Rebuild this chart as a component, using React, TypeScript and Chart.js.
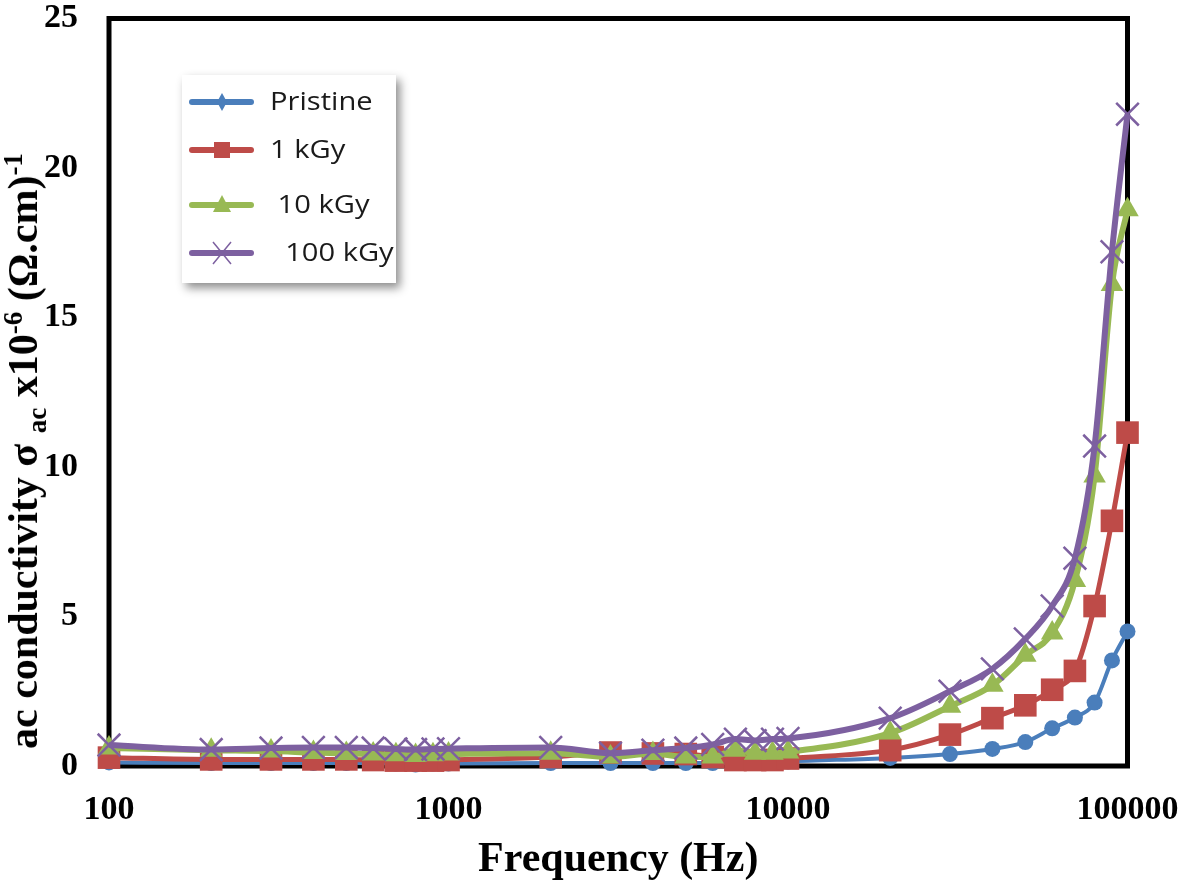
import React, { useEffect, useRef } from 'react';
import { Chart, registerables } from 'chart.js';

Chart.register(...registerables);

// ---------- data ----------
const frequencies = [100, 200, 300, 400, 500, 600, 700, 800, 900, 1000, 2000, 3000, 4000, 5000, 6000, 7000, 8000, 9000, 10000, 20000, 30000, 40000, 50000, 60000, 70000, 80000, 90000, 100000];
const seriesNames = ['Pristine', '1 kGy', ' 10 kGy', '  100 kGy'];
const pristine = [0.12, 0.1, 0.1, 0.1, 0.1, 0.1, 0.08, 0.05, 0.08, 0.08, 0.1, 0.1, 0.1, 0.1, 0.1, 0.1, 0.1, 0.12, 0.15, 0.27, 0.4, 0.57, 0.8, 1.26, 1.62, 2.12, 3.53, 4.5];
const kGy1 = [0.28, 0.22, 0.22, 0.22, 0.22, 0.2, 0.18, 0.18, 0.18, 0.2, 0.3, 0.45, 0.42, 0.4, 0.3, 0.2, 0.2, 0.2, 0.25, 0.53, 1.05, 1.6, 2.03, 2.55, 3.18, 5.35, 8.2, 11.15];
const kGy10 = [0.6, 0.53, 0.5, 0.45, 0.42, 0.4, 0.38, 0.35, 0.38, 0.4, 0.43, 0.3, 0.42, 0.3, 0.3, 0.53, 0.43, 0.43, 0.47, 1.1, 2.0, 2.7, 3.7, 4.45, 6.2, 9.7, 16.1, 18.6];
const kGy100 = [0.7, 0.55, 0.6, 0.62, 0.62, 0.6, 0.57, 0.55, 0.57, 0.58, 0.62, 0.43, 0.53, 0.6, 0.72, 0.9, 0.85, 0.9, 0.92, 1.6, 2.5, 3.25, 4.25, 5.35, 6.95, 10.7, 17.2, 21.8];
const seriesValues = [pristine, kGy1, kGy10, kGy100];
const xTickValues = [100, 1000, 10000, 100000];
const yMin = 0;
const yMax = 25;
const yStep = 5;
const xTitle = 'Frequency (Hz)';

// ---------- styles ----------
const COLORS = ['#4A7EBB', '#BE4B48', '#98B954', '#7D60A0'];
const POINT_STYLES = ['circle', 'rect', 'triangle', 'crossRot'];
const POINT_RADII = [8, 16, 13, 16];
const LINE_WIDTHS = [4, 5, 6, 6];
const LEGEND_STYLES = ['diamond', 'square', 'triangle', 'cross'];
const SERIF = '"Liberation Serif", "Times New Roman", serif';

function drawLegendMarker(ctx: CanvasRenderingContext2D, style: string, x: number, y: number, color: string) {
  ctx.save();
  ctx.fillStyle = color;
  ctx.strokeStyle = color;
  if (style === 'diamond') {
    ctx.beginPath();
    ctx.moveTo(x, y - 9);
    ctx.lineTo(x + 5, y);
    ctx.lineTo(x, y + 9);
    ctx.lineTo(x - 5, y);
    ctx.closePath();
    ctx.fill();
  } else if (style === 'square') {
    ctx.fillRect(x - 8, y - 8, 16, 16);
  } else if (style === 'triangle') {
    ctx.beginPath();
    ctx.moveTo(x, y - 10);
    ctx.lineTo(x + 9, y + 7);
    ctx.lineTo(x - 9, y + 7);
    ctx.closePath();
    ctx.fill();
  } else if (style === 'cross') {
    ctx.lineWidth = 1.5;
    ctx.beginPath();
    ctx.moveTo(x - 9, y - 11);
    ctx.lineTo(x + 9, y + 11);
    ctx.moveTo(x + 9, y - 11);
    ctx.lineTo(x - 9, y + 11);
    ctx.stroke();
  }
  ctx.restore();
}

const framePlugin = {
  id: 'plotFrame',
  beforeDatasetsDraw(chart: any) {
    const { ctx, chartArea: a } = chart;
    ctx.save();
    ctx.strokeStyle = '#000';
    ctx.lineWidth = 5;
    ctx.strokeRect(a.left, a.top, a.right - a.left, a.bottom - a.top);
    ctx.restore();
  },
};

const legendPlugin = {
  id: 'boxLegend',
  afterDraw(chart: any) {
    const ctx: CanvasRenderingContext2D = chart.ctx;
    const bx = 182, by = 75, bw = 214, bh = 208;
    ctx.save();
    ctx.shadowColor = 'rgba(0,0,0,0.45)';
    ctx.shadowBlur = 9;
    ctx.shadowOffsetX = 4;
    ctx.shadowOffsetY = 5;
    ctx.fillStyle = '#ffffff';
    ctx.fillRect(bx, by, bw, bh);
    ctx.restore();

    const rows = [102, 150, 205, 253];
    chart.data.datasets.forEach((ds: any, i: number) => {
      const y = rows[i];
      ctx.save();
      ctx.strokeStyle = ds.borderColor;
      ctx.lineWidth = 6;
      ctx.lineCap = 'round';
      ctx.beginPath();
      ctx.moveTo(192, y);
      ctx.lineTo(251, y);
      ctx.stroke();
      ctx.restore();
      drawLegendMarker(ctx, LEGEND_STYLES[i], 222, y, ds.borderColor);
      ctx.save();
      ctx.fillStyle = '#1a1a1a';
      ctx.font = '26px "Open Sans", "Noto Sans", sans-serif';
      ctx.textBaseline = 'middle';
      ctx.textAlign = 'left';
      ctx.translate(270, y + 1);
      ctx.scale(1.12, 1);
      ctx.fillText(ds.label, 0, 0);
      ctx.restore();
    });
  },
};

export default function App() {
  const canvasRef = useRef<HTMLCanvasElement | null>(null);

  useEffect(() => {
    if (!canvasRef.current) return;
    const datasets = seriesNames.map((name, si) => ({
      label: name,
      data: frequencies.map((f, i) => ({ x: f, y: seriesValues[si][i] })),
      borderColor: COLORS[si],
      backgroundColor: COLORS[si],
      borderWidth: LINE_WIDTHS[si],
      pointStyle: POINT_STYLES[si],
      pointRadius: POINT_RADII[si],
      pointBackgroundColor: COLORS[si],
      pointBorderColor: COLORS[si],
      pointBorderWidth: POINT_STYLES[si] === 'crossRot' ? 2.5 : 0,
      cubicInterpolationMode: 'monotone',
      clip: false,
      order: 3 - si,
    }));

    const tickFont = { family: SERIF, size: 34, weight: 'bold' as const };

    const chart = new Chart(canvasRef.current, {
      type: 'line',
      data: { datasets: datasets as any },
      options: {
        responsive: false,
        animation: false,
        layout: { padding: { left: 0, top: 12.5, right: 53.5, bottom: 0 } },
        plugins: { legend: { display: false }, tooltip: { enabled: false } },
        scales: {
          x: {
            type: 'logarithmic',
            min: 100,
            max: 100000,
            grid: { display: false, drawTicks: false },
            border: { display: false },
            afterBuildTicks: (s: any) => {
              s.ticks = xTickValues.map((v) => ({ value: v }));
            },
            ticks: {
              callback: (v: any) => String(v),
              font: tickFont,
              color: '#000',
              padding: 24,
              maxRotation: 0,
              autoSkip: false,
            },
            title: {
              display: true,
              text: xTitle,
              font: { family: SERIF, size: 42, weight: 'bold', lineHeight: 1 },
              color: '#000',
              padding: { top: 0, bottom: 7 },
            },
            afterFit: (s: any) => {
              s.height = 122;
              s.paddingLeft = 0;
              s.paddingRight = 0;
            },
          } as any,
          y: {
            min: yMin,
            max: yMax,
            grid: { display: false, drawTicks: false },
            border: { display: false },
            ticks: {
              stepSize: yStep,
              font: tickFont,
              color: '#000',
              padding: 31,
            },
            afterFit: (s: any) => {
              s.width = 109;
              s.paddingTop = 0;
              s.paddingBottom = 0;
            },
          } as any,
        },
      },
      plugins: [framePlugin, legendPlugin],
    });
    return () => chart.destroy();
  }, []);

  const small = { fontSize: 27, position: 'relative' as const };

  return (
    <div style={{ position: 'fixed', left: 0, top: 0, width: 1181, height: 888, background: '#fff' }}>
      <canvas ref={canvasRef} width={1181} height={888} style={{ position: 'absolute', left: 0, top: 0, width: 1181, height: 888 }} />
      <div
        style={{
          position: 'absolute',
          left: 23,
          top: 451,
          transform: 'translate(-50%, -50%) rotate(-90deg)',
          whiteSpace: 'nowrap',
          fontFamily: SERIF,
          fontWeight: 'bold',
          fontSize: 42,
          lineHeight: 1,
          color: '#000',
        }}
      >
        ac conductivity σ <span style={{ ...small, top: 9 }}>ac</span> x10<span style={{ ...small, top: -15 }}>-6</span> (Ω.cm)<span style={{ ...small, top: -15 }}>-1</span>
      </div>
    </div>
  );
}
